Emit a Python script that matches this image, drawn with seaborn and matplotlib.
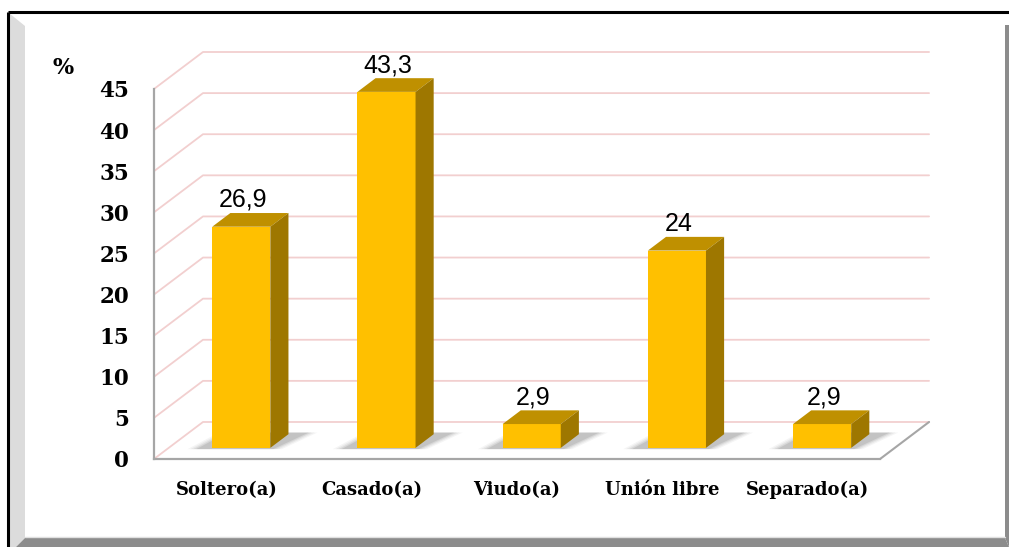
import numpy as np
import pandas as pd
import matplotlib
matplotlib.use('Agg')
import matplotlib.pyplot as plt
from matplotlib.patches import Polygon
import seaborn as sns

# data
categories = ['Soltero(a)', 'Casado(a)', 'Viudo(a)', 'Unión libre', 'Separado(a)']
values = [26.9, 43.3, 2.9, 24, 2.9]
value_labels = ['26,9', '43,3', '2,9', '24', '2,9']
y_ticks = [0, 5, 10, 15, 20, 25, 30, 35, 40, 45]

df = pd.DataFrame({'estado': categories, 'pct': values})

sns.set_style('white')
plt.rcParams['text.color'] = 'black'
plt.rcParams['xtick.labelcolor'] = 'black'
plt.rcParams['ytick.labelcolor'] = 'black'

fig = plt.figure(figsize=(10.09, 5.47), dpi=100)

# --- frame decoration (pixel coordinates) ---
bg = fig.add_axes([0, 0, 1, 1], zorder=-10)
bg.set_xlim(0, 1009)
bg.set_ylim(547, 0)
bg.axis('off')
bg.add_patch(Polygon([(9, 13), (25, 26), (25, 538), (16, 547), (9, 547)],
                     closed=True, fc='#DCDCDC', ec='none'))
bg.add_patch(Polygon([(16, 547), (25, 538), (1005, 538), (1009, 547)],
                     closed=True, fc='#8C8C8C', ec='none'))
bg.add_patch(Polygon([(1005, 25), (1009, 25), (1009, 547), (1005, 538)],
                     closed=True, fc='#8C8C8C', ec='none'))
bg.plot([25, 1005], [537, 537], color='#E0E0E0', lw=1)
bg.plot([8, 1009], [12, 12], color='black', lw=2.2, solid_capstyle='butt')
bg.plot([8, 8], [12, 547], color='black', lw=2.2, solid_capstyle='butt')

# --- chart ---
ax = fig.add_axes([0.1526, 0.1609, 0.7196, 0.6764])
sns.barplot(data=df, x='estado', y='pct', color='#FFC000', saturation=1,
            width=0.4, ax=ax, zorder=5)

ax.set_xlim(-0.5, 4.5)
ax.set_ylim(0, 45)

# oblique depth of the box (data units)
DX, DY = 0.3375, 4.5
f0, f1 = 0.30, 0.67
grid_col = '#F2CFCF'

# back wall + left wall gridlines
for v in y_ticks:
    ax.plot([-0.5, -0.5 + DX, 4.5 + DX], [v, v + DY, v + DY],
            color=grid_col, lw=1.3, zorder=1, clip_on=False)
# floor right edge
ax.plot([4.5, 4.5 + DX], [0, DY], color='#A6A6A6', lw=1.5, zorder=2, clip_on=False)

top_col = '#BF9000'
side_col = '#9E7700'

for p, val, lab in zip(ax.patches, values, value_labels):
    x0 = p.get_x() + DX * f0
    w = p.get_width()
    x1 = x0 + w
    yb = DY * f0
    yt = yb + val
    ddx, ddy = DX * (f1 - f0), DY * (f1 - f0)
    p.set_x(x0)
    p.set_y(yb)
    p.set_edgecolor('none')
    p.set_clip_on(False)
    # soft shadow on floor
    for k, a in enumerate([0.06, 0.08, 0.11, 0.15]):
        e = 0.08 - k * 0.02
        shadow = Polygon([(x0 - e - 0.09, yb - 0.15), (x1 + e, yb - 0.15),
                          (x1 + ddx + 0.12 + e, yb + ddy + 0.2),
                          (x0 + ddx - e, yb + ddy + 0.2)],
                         closed=True, fc='#555555', ec='none', alpha=a,
                         zorder=3, clip_on=False)
        ax.add_patch(shadow)
    top = Polygon([(x0, yt), (x0 + ddx, yt + ddy), (x1 + ddx, yt + ddy), (x1, yt)],
                  closed=True, fc=top_col, ec='none', zorder=6, clip_on=False)
    side = Polygon([(x1, yb), (x1 + ddx, yb + ddy), (x1 + ddx, yt + ddy), (x1, yt)],
                   closed=True, fc=side_col, ec='none', zorder=6, clip_on=False)
    ax.add_patch(top)
    ax.add_patch(side)
    ax.text(x0 + w / 2 + 0.01, yt + ddy + 0.75, lab, ha='center', va='baseline',
            fontsize=18, family='Liberation Sans', color='black', zorder=8)

# axes styling
for s in ['top', 'right']:
    ax.spines[s].set_visible(False)
for s in ['left', 'bottom']:
    ax.spines[s].set_color('#A6A6A6')
    ax.spines[s].set_linewidth(1.6)
    ax.spines[s].set_zorder(7)

ax.set_yticks(y_ticks)
ax.set_yticklabels([str(t) for t in y_ticks], fontsize=15.5, fontweight='bold',
                   family='DejaVu Serif')
ax.tick_params(axis='y', direction='out', length=5, width=1.6, color='#A6A6A6', pad=13)

ax.set_xticks(range(len(categories)))
ax.set_xticklabels(categories, fontsize=13, fontweight='bold', family='DejaVu Serif')
ax.tick_params(axis='x', which='major', length=0, pad=16)
ax.set_xticks(np.arange(-0.5, len(categories)), minor=True)
ax.tick_params(axis='x', which='minor', direction='out', length=5, width=1.6,
               color='#A6A6A6')
ax.set_xlabel('')
ax.set_ylabel('')
ax.patch.set_alpha(0)

fig.text(63 / 1009, 1 - 68 / 547, '%', ha='center', va='center', fontsize=16,
         fontweight='bold', family='DejaVu Serif', color='black')

fig.savefig('out.png', dpi=100)
